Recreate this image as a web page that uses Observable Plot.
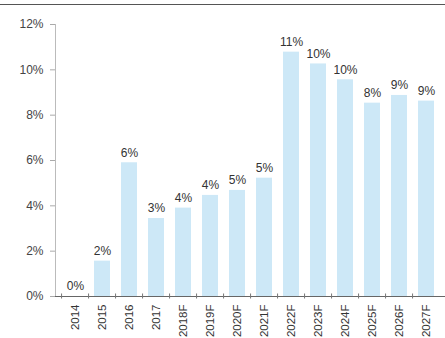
<!DOCTYPE html>
<html>
<head>
<meta charset="utf-8">
<script src="https://cdn.jsdelivr.net/npm/d3@7"></script>
<script src="https://cdn.jsdelivr.net/npm/@observablehq/plot@0.6"></script>
<style>
  html, body { margin: 0; padding: 0; background: #fff; overflow: hidden; }
  #wrap { position: relative; width: 445px; height: 338px; }
  #rule { position: absolute; left: 0; top: 4px; width: 445px; height: 0; border-top: 1.5px solid #555; }
  svg { font-family: "Liberation Sans", Arial, sans-serif; }
</style>
</head>
<body>
<div id="wrap"><div id="rule"></div><div id="chart"></div></div>
<script>
const years = ["2014","2015","2016","2017","2018F","2019F","2020F","2021F","2022F","2023F","2024F","2025F","2026F","2027F"];
const growth = [0, 1.56, 5.9, 3.44, 3.9, 4.46, 4.68, 5.22, 10.78, 10.26, 9.56, 8.53, 8.87, 8.62];
const valueLabels = ["0%","2%","6%","3%","4%","4%","5%","5%","11%","10%","10%","8%","9%","9%"];
const yTicks = [0, 2, 4, 6, 8, 10, 12];

const data = years.map((y, i) => ({year: y, v: growth[i], label: valueLabels[i]}));
const W = 445, ML = 55;
const step = (W - ML) / years.length;

const chart = Plot.plot({
  width: W,
  height: 338,
  marginLeft: ML,
  marginRight: 0,
  marginTop: 24,
  marginBottom: 42,
  style: {fontFamily: "Liberation Sans, Arial, sans-serif", fontSize: "12px", color: "#444", background: "#fff"},
  x: {domain: years, paddingInner: 0.42, paddingOuter: 0.21, label: null},
  y: {domain: [0, 12], label: null},
  marks: [
    Plot.frame({anchor: "left", stroke: "#bbb"}),
    Plot.axisY({ticks: yTicks, tickFormat: d => d + "%", tickSize: 5, tickPadding: 7, stroke: "#aaa", fill: "#444", fontSize: 12, label: null}),
    Plot.barY(data, {x: "year", y: "v", fill: "#cde8f7"}),
    Plot.text(data, {x: "year", y: "v", text: "label", dy: -10, fill: "#333", fontSize: 12}),
    Plot.ruleY([0], {stroke: "#666", strokeWidth: 1}),
    Plot.axisX({ticks: years, text: null, tickSize: 5, dx: -step / 2, dy: -2.5, stroke: "#777", label: null}),
    Plot.axisX({ticks: years, tickSize: 0, tickPadding: 8, tickRotate: -90, fill: "#333", fontSize: 11.5, label: null})
  ]
});
document.getElementById("chart").appendChild(chart);
</script>
</body>
</html>
